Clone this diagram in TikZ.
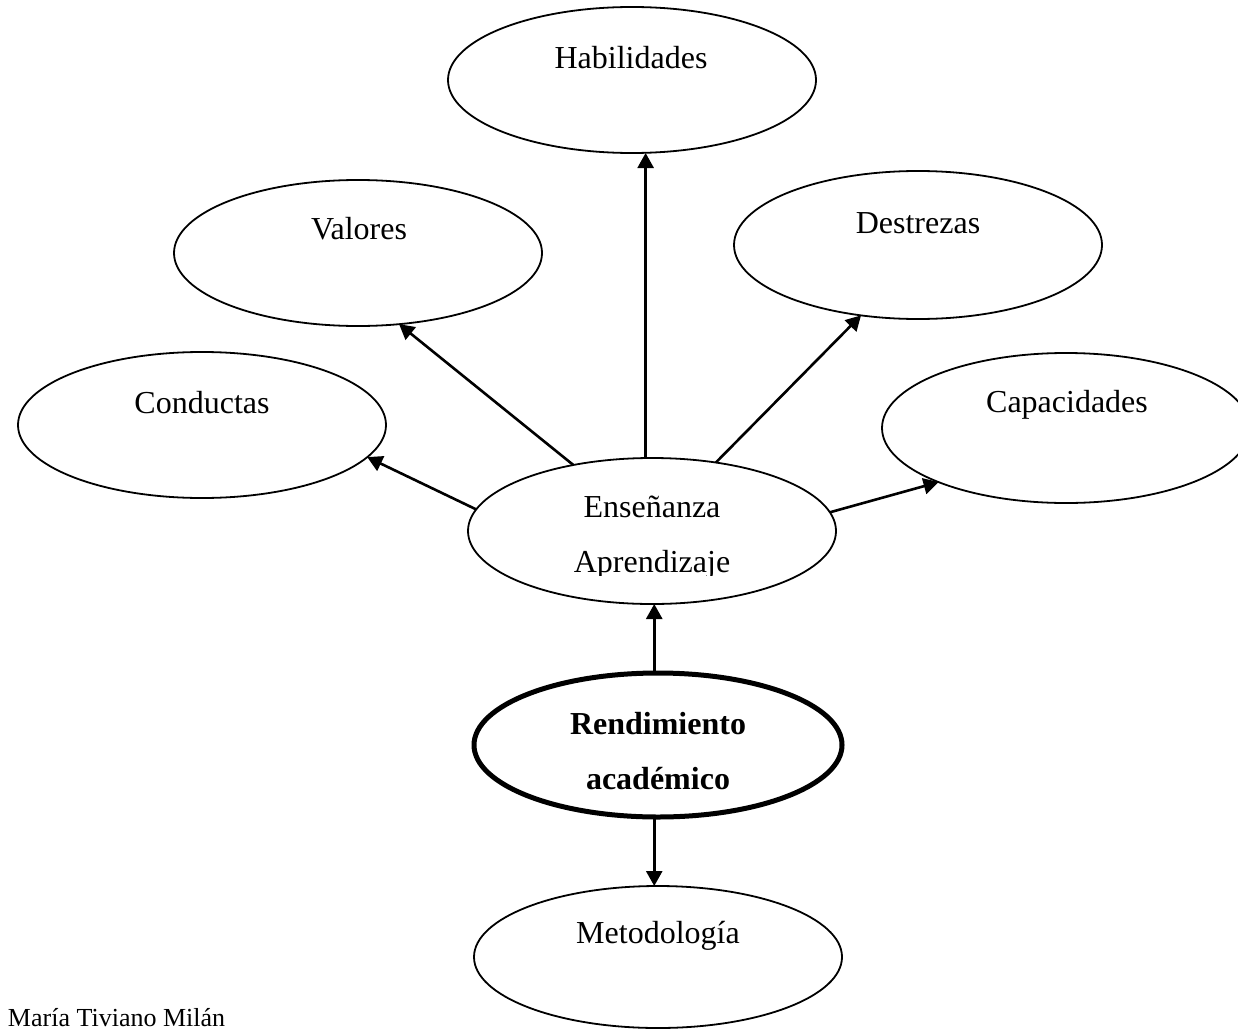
\documentclass[tikz,border=0pt]{standalone}
\usepackage{fontspec}
\setmainfont{Liberation Serif}
\usetikzlibrary{arrows.meta,shapes.geometric}
\begin{document}
\begin{tikzpicture}[x=1pt,y=-1pt,
  oval/.style={draw, ellipse, line width=1.8pt, minimum width=368pt, minimum height=146pt, inner sep=0pt, outer sep=0pt},
  lbl/.style={anchor=base, inner sep=0pt, outer sep=0pt, font=\fontsize{32}{38}\selectfont},
  arr/.style={line width=2.6pt, -{Triangle[length=15pt,width=16pt]}},
  ]
\useasboundingbox (0,0) rectangle (1238,1030);
% ellipses
\node[oval] (hab) at (632,80) {};
\node[oval] (val) at (358,253) {};
\node[oval, minimum height=148pt] (des) at (918,245) {};
\node[oval] (con) at (202,425) {};
\node[oval, minimum height=150pt] (cap) at (1066,428) {};
\node[oval] (ens) at (652,531) {};
\node[oval, line width=5pt, minimum height=144pt] (ren) at (658,745) {};
\node[oval, minimum height=142pt] (met) at (658,957) {};
% labels
\node[lbl] (thab) at (631,69) {Habilidades};
\node[lbl] (tval) at (359,239) {Valores};
\node[lbl] (tdes) at (918,233) {Destrezas};
\node[lbl] (tcon) at (202,413) {Conductas};
\node[lbl] (tcap) at (1067,412) {Capacidades};
\node[lbl] (tens) at (652,517) {Enseñanza};
\begin{scope}
\clip (460,530) rectangle (850,575);
\node[lbl] (tapr) at (652,572) {Aprendizaje};
\end{scope}
\node[lbl, font=\fontsize{32}{38}\selectfont\bfseries] (tren) at (658,734) {Rendimiento};
\node[lbl, font=\fontsize{32}{38}\selectfont\bfseries] (taca) at (658,789) {académico};
\node[lbl] (tmet) at (658,943) {Metodología};
\node[lbl, anchor=base west, font=\fontsize{26}{30}\selectfont] (autor) at (8,1026) {María Tiviano Milán};
% connectors
\draw[arr] (ens.173.5) -- (con.-11.2);
\draw[arr] (ens.140) -- (val.-60.75);
\draw[arr] (ens.95.5) -- (ens.95.5 |- hab.south);
\draw[arr] (ens.47) -- (des.-129);
\draw[arr] (ens.6.5) -- (cap.-157.9);
\draw[arr] (ren.93) -- (ren.93 |- ens.south);
\draw[arr] (ren.267) -- (ren.267 |- met.north);
\end{tikzpicture}
\end{document}
